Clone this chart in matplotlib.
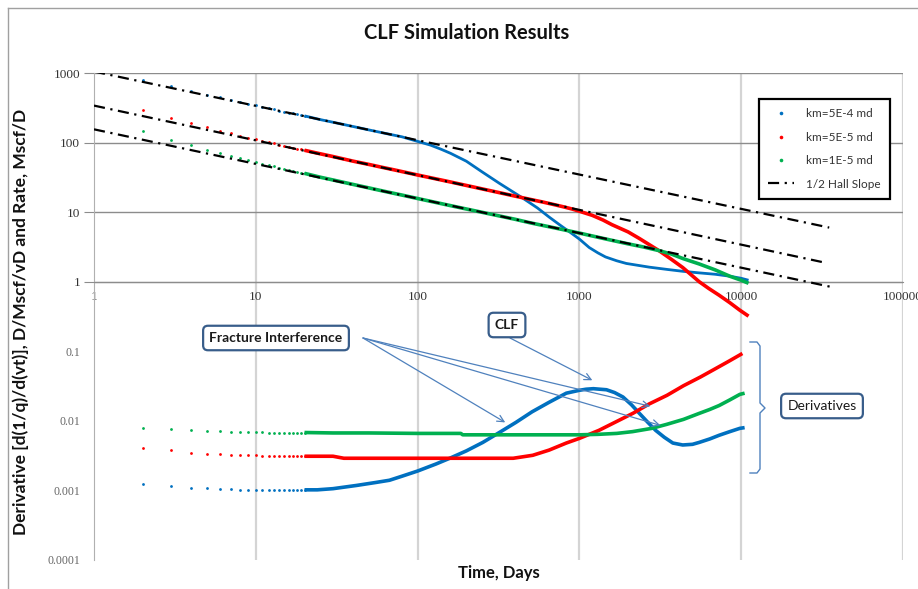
import matplotlib
matplotlib.use('Agg')
import matplotlib.pyplot as plt
from matplotlib.lines import Line2D
from matplotlib import rcParams

rcParams['font.family'] = ['Lato', 'DejaVu Sans']

# ---- data -------------------------------------------------------------
# integer days shown as separate points at early time
days_early = [2, 3, 4, 5, 6, 7, 8, 9, 10, 11, 12, 13, 14, 15, 16, 17, 18, 19, 20]

# rates, Mscf/D
rate_blue_early = [800, 640, 550, 490, 447, 413, 386, 363, 343, 327, 313, 300,
                   289, 279, 270, 262, 255, 248, 242]
rate_red_early = [290, 222, 188, 165, 148, 136, 126, 118, 112, 106, 101, 97,
                  93.5, 90, 87, 84.5, 82, 80, 77.5]
rate_green_early = [147, 110, 91, 79, 70.5, 64.4, 59.6, 55.8, 52.6, 50, 47.5,
                    45.4, 43.7, 42, 40.6, 39.3, 38.2, 37.1, 36.1]

days_rate_blue = [20, 25, 30, 40, 50, 60, 70, 80, 100, 120, 140, 160, 200, 250,
                  320, 436, 550, 650, 760, 890, 1000, 1150, 1300, 1450, 1700,
                  1950, 2300, 2700, 3500, 4370, 5500, 6900, 8500, 10000, 11100]
rate_blue = [242, 214, 196, 170, 152, 139, 129, 121, 104, 92, 80, 70, 54, 38,
             26, 16.5, 11.5, 8.5, 6.5, 5.0, 4.1, 3.1, 2.6, 2.27, 2.0,
             1.83, 1.72, 1.62, 1.5, 1.41, 1.34, 1.28, 1.2, 1.12, 1.05]

days_rate_red = [20, 25, 30, 40, 50, 60, 70, 80, 100, 150, 200, 300, 400, 500,
                 600, 700, 800, 900, 1000, 1200, 1400, 1590, 2000, 2340, 3100,
                 3700, 4350, 5500, 6300, 7300, 8500, 9800, 11100]
rate_red = [77.5, 69, 63, 54, 48.5, 44.2, 41, 38.3, 34.2, 28, 24.2, 19.7, 17.0,
            15.2, 13.9, 12.8, 11.9, 11.1, 10.3, 9.0, 7.7, 6.6, 5.2, 4.2, 2.8,
            2.1, 1.6, 1.0, 0.8, 0.64, 0.5, 0.39, 0.32]

days_rate_green = [20, 25, 30, 40, 50, 60, 70, 80, 100, 150, 200, 300, 400, 500,
                   700, 1000, 1500, 2000, 2500, 3100, 3700, 4370, 5500, 6900,
                   8500, 10000, 11100]
rate_green = [36.1, 31.8, 29, 25, 22.3, 20.3, 18.8, 17.6, 15.7, 12.8, 11.1, 9.1,
              7.9, 7.0, 5.95, 5.0, 4.05, 3.5, 3.15, 2.8, 2.5, 2.15, 1.8, 1.48,
              1.2, 1.05, 0.95]

# derivatives d(1/q)/d(vt), D/Mscf/vD
der_blue_early = [0.00125, 0.00117, 0.0011, 0.00107, 0.00105, 0.00104, 0.00102,
                  0.00102, 0.00102, 0.00102, 0.00102, 0.00102, 0.00102, 0.00102,
                  0.00102, 0.00102, 0.00102, 0.00102, 0.00102]
der_red_early = [0.00411, 0.00377, 0.00348, 0.00337, 0.00333, 0.0032, 0.0032,
                 0.0032, 0.00318, 0.00315, 0.00312, 0.0031, 0.0031, 0.0031,
                 0.0031, 0.0031, 0.0031, 0.0031, 0.0031]
der_green_early = [0.0078, 0.0076, 0.0073, 0.0072, 0.0071, 0.0070, 0.0070,
                   0.0069, 0.0069, 0.0069, 0.0068, 0.0068, 0.0068, 0.0068,
                   0.0068, 0.0068, 0.0068, 0.0068, 0.0068]

days_der_blue = [20, 24, 30, 42, 55, 67, 80, 100, 130, 158, 200, 253, 320, 405,
                 510, 650, 830, 1000, 1100, 1220, 1470, 1650, 1860, 2100, 2350,
                 2650, 2960, 3350, 3780, 4350, 5000, 5500, 6400, 7300, 8500,
                 9800, 10500]
der_blue = [0.00102, 0.00102, 0.00106, 0.00118, 0.0013, 0.0014, 0.0016, 0.0019,
            0.0024, 0.0029, 0.0037, 0.0049, 0.0068, 0.0095, 0.0135, 0.0185,
            0.025, 0.0275, 0.0285, 0.029, 0.028, 0.0255, 0.022, 0.017, 0.0128,
            0.0095, 0.0073, 0.0058, 0.0048, 0.0045, 0.0046, 0.0049, 0.0055,
            0.0062, 0.0070, 0.0078, 0.0080]

days_der_red = [20, 30, 35, 100, 200, 390, 515, 650, 830, 1000, 1320, 1700,
                2150, 2700, 3480, 4400, 5600, 6720, 8300, 10170]
der_red = [0.0031, 0.0031, 0.0029, 0.0029, 0.0029, 0.0029, 0.0032, 0.0038,
           0.0048, 0.0056, 0.0073, 0.0098, 0.0129, 0.0175, 0.0233, 0.032,
           0.0427, 0.054, 0.071, 0.093]

days_der_green = [20, 30, 50, 100, 150, 185, 190, 300, 500, 800, 1000, 1300,
                  1700, 2130, 2800, 3460, 4400, 5500, 6400, 7300, 8500, 9800,
                  10500]
der_green = [0.0068, 0.0067, 0.0067, 0.0066, 0.0066, 0.0066, 0.0063, 0.0063,
             0.0063, 0.0063, 0.0063, 0.0064, 0.0066, 0.0070, 0.0078, 0.0089,
             0.0105, 0.0128, 0.0146, 0.0166, 0.020, 0.024, 0.025]

# half slope reference lines (end points)
hall_days = [[1, 35000], [1, 34000], [1, 37000]]
hall_vals = [[1050, 6.0], [340, 1.85], [155, 0.83]]

labels = ['km=5E-4 md', 'km=5E-5 md', 'km=1E-5 md']
hall_label = '1/2 Hall Slope'

xticks = [1, 10, 100, 1000, 10000, 100000]
xlabels = ['1', '10', '100', '1000', '10000', '100000']
yticks = [1e-4, 1e-3, 1e-2, 1e-1, 1, 10, 100, 1000]
ylabels = ['0.0001', '0.001', '0.01', '0.1', '1', '10', '100', '1000']

# ---- figure -----------------------------------------------------------
W, H = 918, 589
fig = plt.figure(figsize=(W/100., H/100.), dpi=100)


def px(x, y):
    return x/float(W), 1 - y/float(H)


ax = fig.add_axes([94./W, 1-560./H, (903.-94)/W, (560.-73)/H])
ax.set_xscale('log')
ax.set_yscale('log')
ax.set_xlim(1, 100000)
ax.set_ylim(1e-4, 1000)

blue, red, green = '#0070c0', '#ff0000', '#00b050'

# vertical grid, horizontal grid only on the rate half
for x in xticks[1:]:
    ax.axvline(x, color='#d4d4d4', lw=1.6, zorder=0)
for y in yticks[4:]:
    ax.axhline(y, color='#8c8c8c', lw=1.0, zorder=0.5)

for spine in ['top', 'right']:
    ax.spines[spine].set_visible(False)
ax.spines['bottom'].set_position(('data', 1))
ax.spines['bottom'].set_color('#8c8c8c')
ax.spines['left'].set_color('#b0b0b0')

ax.set_xticks(xticks)
ax.set_xticklabels(xlabels)
ax.xaxis.set_minor_locator(matplotlib.ticker.NullLocator())
ax.tick_params(axis='x', length=0, pad=7, labelsize=9.5, labelcolor='#333333')
for lab in ax.get_xticklabels():
    lab.set_family('Liberation Serif')

ax.set_yticks(yticks)
ax.set_yticklabels(ylabels)
ax.yaxis.set_minor_locator(matplotlib.ticker.NullLocator())
ax.tick_params(axis='y', length=7, pad=3, color='#8c8c8c', labelsize=9.5,
               labelcolor='#333333')
for val, tick in zip(yticks, ax.yaxis.get_major_ticks()):
    tick.label1.set_family('Liberation Serif')
    if val < 1:
        tick.tick1line.set_visible(False)
        tick.label1.set_color('#666666')
        tick.label1.set_fontsize(8.5)

# half slope lines
for i in range(3):
    ax.plot(hall_days[i], hall_vals[i], color='black', lw=1.6,
            dashes=(5, 2.5, 1, 2.5), zorder=4,
            label=hall_label if i == 0 else None)

# rates and derivatives: early points as dots, then continuous
series = [
    (blue, rate_blue_early, days_rate_blue, rate_blue,
     der_blue_early, days_der_blue, der_blue, 2.0),
    (red, rate_red_early, days_rate_red, rate_red,
     der_red_early, days_der_red, der_red, 2.6),
    (green, rate_green_early, days_rate_green, rate_green,
     der_green_early, days_der_green, der_green, 2.6),
]
handles = []
for n, (c, re, dr, r, de, dd, d, lw) in enumerate(series):
    h, = ax.plot(days_early, re, ls='none', marker='o', ms=2.0, mew=0,
                 color=c, zorder=3, label=labels[n])
    handles.append(h)
    ax.plot(dr, r, color=c, lw=lw, zorder=3, solid_capstyle='butt')
    ax.plot(days_early, de, ls='none', marker='o', ms=2.0, mew=0,
            color=c, zorder=3)
    ax.plot(dd, d, color=c, lw=2.6, zorder=3, solid_capstyle='butt')

hall_handle = Line2D([], [], color='black', lw=1.6, dashes=(5, 2.5, 1, 2.5))
leg = ax.legend(handles + [hall_handle], labels + [hall_label],
                loc='upper left', bbox_to_anchor=px(753, 93),
                bbox_transform=fig.transFigure, fancybox=False,
                framealpha=1, edgecolor='black', fontsize=8.5,
                labelspacing=1.05, handlelength=2.2, handletextpad=1.0,
                borderpad=0.8, markerscale=1.3)
leg.get_frame().set_linewidth(1.6)
for t in leg.get_texts():
    t.set_color('#333333')

# annotations
arrow_c = '#4f81bd'
box = dict(boxstyle='round,pad=0.45,rounding_size=0.35', fc='white',
           ec='#385d8a', lw=1.6)
fig.text(*px(276, 338), 'Fracture Interference', fontsize=10, weight='bold',
         ha='center', va='center', color='#1a1a1a', bbox=box, zorder=6)
fig.text(*px(507, 325), 'CLF', fontsize=10, weight='bold', ha='center',
         va='center', color='#1a1a1a', bbox=box, zorder=6)
fig.text(*px(822, 406), 'Derivatives', fontsize=10, ha='center',
         va='center', color='#1a1a1a', bbox=box, zorder=6)

arrowprops = dict(arrowstyle='->', color=arrow_c, lw=0.9,
                  shrinkA=0, shrinkB=0, mutation_scale=12)
for tip in [(348, 0.0095), (2744, 0.0162), (3170, 0.0086)]:
    ax.annotate('', xy=tip, xycoords='data', xytext=px(363, 338),
                textcoords='figure fraction', arrowprops=arrowprops)
ax.annotate('', xy=(1202, 0.0383), xycoords='data', xytext=px(510, 338),
            textcoords='figure fraction', arrowprops=arrowprops)

# brace next to the derivative curves
bx = [750, 757, 760, 760, 765, 760, 760, 757, 750]
by = [342, 342, 346, 403, 408, 413, 469, 473, 473]
fig.add_artist(Line2D([x/float(W) for x in bx], [1 - y/float(H) for y in by],
                      color=arrow_c, lw=1.0))

# titles
fig.text(*px(467, 33), 'CLF Simulation Results', fontsize=14.5,
         weight='bold', ha='center', va='center', color='#111111')
fig.text(*px(499, 573), 'Time, Days', fontsize=12, weight='bold',
         ha='center', va='center', color='#111111')
fig.text(*px(21, 322), 'Derivative [d(1/q)/d(vt)], D/Mscf/vD and Rate, Mscf/D',
         fontsize=12.5, weight='bold', rotation=90, ha='center', va='center',
         color='#111111')

# chart border
fig.add_artist(Line2D([8./W, 8./W], [0, 1-8./H], color='#a0a0a0', lw=1.0))
fig.add_artist(Line2D([8./W, 1], [1-8./H, 1-8./H], color='#a0a0a0', lw=1.0))

plt.savefig('out.png', dpi=100)
